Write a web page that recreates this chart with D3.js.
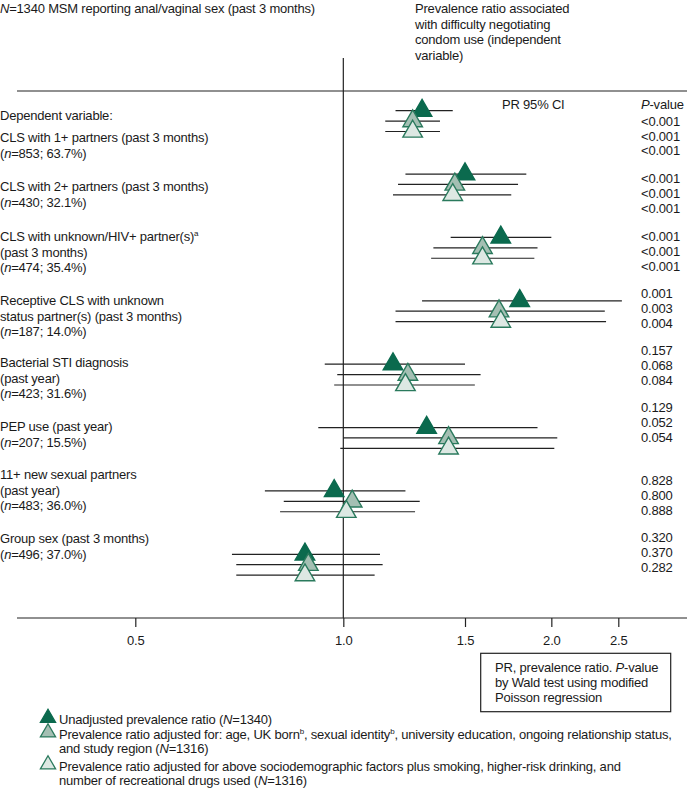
<!DOCTYPE html>
<html>
<head>
<meta charset="utf-8">
<script src="https://cdn.jsdelivr.net/npm/d3@7"></script>
<style>
  body { margin: 0; background: #fff; }
  svg text { font-family: "Liberation Sans", Arial, sans-serif; font-size: 13px; letter-spacing: -0.2px; fill: #1a1a1a; }
</style>
</head>
<body>
<div id="theGraph"></div>
<script>
// ---- data ----
const groupLabels = [
    ["CLS with 1+ partners (past 3 months)"],
    ["CLS with 2+ partners (past 3 months)"],
    ["CLS with unknown/HIV+ partner(s)|a", "(past 3 months)"],
    ["Receptive CLS with unknown", "status partner(s) (past 3 months)"],
    ["Bacterial STI diagnosis", "(past year)"],
    ["PEP use (past year)"],
    ["11+ new sexual partners", "(past year)"],
    ["Group sex (past 3 months)"]
];
const groupN = ["853; 63.7%", "430; 32.1%", "474; 35.4%", "187; 14.0%", "423; 31.6%", "207; 15.5%", "483; 36.0%", "496; 37.0%"];

// [PR, lower, upper]
const unadjusted = [[1.30, 1.19, 1.44], [1.50, 1.23, 1.84], [1.69, 1.43, 2.00], [1.80, 1.30, 2.53],
    [1.18, 0.94, 1.50], [1.32, 0.92, 1.91], [0.97, 0.77, 1.23], [0.88, 0.69, 1.13]];
const adjustedSocio = [[1.26, 1.15, 1.38], [1.45, 1.20, 1.79], [1.59, 1.35, 1.91], [1.68, 1.19, 2.39],
    [1.24, 0.98, 1.58], [1.42, 1.00, 2.04], [1.03, 0.82, 1.29], [0.89, 0.70, 1.14]];
const adjustedFull = [[1.26, 1.15, 1.38], [1.44, 1.18, 1.75], [1.59, 1.34, 1.89], [1.69, 1.19, 2.40],
    [1.23, 0.97, 1.55], [1.42, 0.99, 2.02], [1.01, 0.81, 1.27], [0.88, 0.70, 1.11]];

const pUnadjusted = ["<0.001", "<0.001", "<0.001", "0.001", "0.157", "0.129", "0.828", "0.320"];
const pAdjustedSocio = ["<0.001", "<0.001", "<0.001", "0.003", "0.068", "0.052", "0.800", "0.370"];
const pAdjustedFull = ["<0.001", "<0.001", "<0.001", "0.004", "0.084", "0.054", "0.888", "0.282"];

const tickValues = [0.5, 1.0, 1.5, 2.0, 2.5];

// ---- layout ----
const width = 687, height = 790;
const seriesColors = [
    {fill: "#0b6a4e", stroke: "#0b6a4e"},
    {fill: "#a4bfb3", stroke: "#2a7a5d"},
    {fill: "#dde8e3", stroke: "#2a7a5d"}
];
const labelY = [137, 186, 236, 300, 362, 426, 474, 538];
const lineH = 15.5;

const svg = d3.select("#theGraph").append("svg").attr("width", width).attr("height", height);

const xScale = d3.scaleLog().domain([0.5, 2.5]).range([135.3, 618.3]);
const yGroup = d3.scaleLinear().domain([0, 7]).range([110.7, 554.3]);
const rowStep = 10.4;
const axisY = 618;

// header
svg.append("text").attr("x", 0).attr("y", 13)
    .call(t => { t.append("tspan").style("font-style", "italic").text("N"); t.append("tspan").text("=1340 MSM reporting anal/vaginal sex (past 3 months)"); });
["Prevalence ratio associated", "with difficulty negotiating", "condom use (independent", "variable)"]
    .forEach((s, i) => svg.append("text").attr("x", 415).attr("y", 13 + i * lineH).text(s));

svg.append("line").attr("x1", 17).attr("x2", width).attr("y1", 91).attr("y2", 91).attr("stroke", "#222").attr("stroke-width", 1.2);
svg.append("line").attr("x1", xScale(1)).attr("x2", xScale(1)).attr("y1", 58).attr("y2", axisY).attr("stroke", "#222").attr("stroke-width", 1.2);

svg.append("text").attr("x", 0).attr("y", 120).text("Dependent variable:");
svg.append("text").attr("x", 502).attr("y", 109).text("PR 95% CI");
svg.append("text").attr("x", 641).attr("y", 109)
    .call(t => { t.append("tspan").style("font-style", "italic").text("P"); t.append("tspan").text("-value"); });

// group labels
groupLabels.forEach((lines, g) => {
    lines.forEach((s, i) => {
        const t = svg.append("text").attr("x", 0).attr("y", labelY[g] + 5 + i * lineH);
        const parts = s.split("|");
        t.append("tspan").text(parts[0]);
        if (parts[1]) t.append("tspan").attr("font-size", "8px").attr("dy", -5).text(parts[1]);
    });
    const t = svg.append("text").attr("x", 0).attr("y", labelY[g] + 5 + lines.length * lineH);
    t.append("tspan").text("(");
    t.append("tspan").style("font-style", "italic").text("n");
    t.append("tspan").text("=" + groupN[g] + ")");
});

// axis
svg.append("line").attr("x1", 17).attr("x2", width).attr("y1", axisY).attr("y2", axisY).attr("stroke", "#222").attr("stroke-width", 1.2);
const axis = svg.append("g").attr("transform", `translate(0,${axisY})`)
    .call(d3.axisBottom(xScale).tickValues(tickValues).tickFormat(d3.format(".1f")).tickSize(9).tickSizeOuter(0).tickPadding(9));
axis.select(".domain").remove();
axis.selectAll("line").attr("stroke", "#222").attr("stroke-width", 1.2);
axis.selectAll("text").attr("font-family", null).attr("font-size", null).attr("fill", "#1a1a1a");

// CI rows
const series = [unadjusted, adjustedSocio, adjustedFull];
const pSeries = [pUnadjusted, pAdjustedSocio, pAdjustedFull];
const tri = d3.symbol(d3.symbolTriangle, 165);

series.forEach((data, k) => {
    const g = svg.append("g");
    g.selectAll("line").data(data).enter().append("line")
        .attr("x1", d => xScale(d[1])).attr("x2", d => xScale(d[2]))
        .attr("y1", (d, i) => yGroup(i) + k * rowStep).attr("y2", (d, i) => yGroup(i) + k * rowStep)
        .attr("stroke", "#222").attr("stroke-width", 1.2);
});
// markers on top of all CI lines
series.forEach((data, k) => {
    svg.append("g").selectAll("path").data(data).enter().append("path")
        .attr("d", tri)
        .attr("transform", (d, i) => `translate(${xScale(d[0])},${yGroup(i) + k * rowStep})`)
        .attr("fill", seriesColors[k].fill).attr("stroke", seriesColors[k].stroke).attr("stroke-width", 1.4);
});

// p-values
const pY = [120.7, 178.3, 236, 293, 350, 407, 480, 537];
pSeries.forEach((vals, k) => {
    svg.append("g").selectAll("text").data(vals).enter().append("text")
        .attr("x", 641).attr("y", (d, i) => pY[i] + 5 + k * 14.8).text(d => d);
});

// note box
svg.append("rect").attr("x", 480.7).attr("y", 653.3).attr("width", 190).attr("height", 58.4)
    .attr("fill", "none").attr("stroke", "#222").attr("stroke-width", 1.2);
svg.append("text").attr("x", 495).attr("y", 671.5)
    .call(t => { t.append("tspan").text("PR, prevalence ratio. "); t.append("tspan").style("font-style", "italic").text("P"); t.append("tspan").text("-value"); });
svg.append("text").attr("x", 495).attr("y", 687).text("by Wald test using modified");
svg.append("text").attr("x", 495).attr("y", 702).text("Poisson regression");

// legend
const legTri = d3.symbol(d3.symbolTriangle, 100);
const legendItems = [
    {y: 719, lines: [[["Unadjusted prevalence ratio ("], ["N", "i"], ["=1340)"]]]},
    {y: 733.5, lines: [[["Prevalence ratio adjusted for: age, UK born"], ["b", "s"], [", sexual identity"], ["b", "s"], [", university education, ongoing relationship status,"]],
        [["and study region ("], ["N", "i"], ["=1316)"]]]},
    {y: 765.5, lines: [[["Prevalence ratio adjusted for above sociodemographic factors plus smoking, higher-risk drinking, and"]],
        [["number of recreational drugs used ("], ["N", "i"], ["=1316)"]]]}
];
legendItems.forEach((item, k) => {
    svg.append("path").attr("d", legTri).attr("transform", `translate(48,${item.y - 1})`)
        .attr("fill", seriesColors[k].fill).attr("stroke", seriesColors[k].stroke).attr("stroke-width", 1.3);
    item.lines.forEach((segs, i) => {
        const t = svg.append("text").attr("x", 59).attr("y", item.y + 5 + i * 14);
        segs.forEach(s => {
            const sp = t.append("tspan").text(s[0]);
            if (s[1] === "i") sp.style("font-style", "italic");
            if (s[1] === "s") { sp.attr("font-size", "8px").attr("dy", -5); }
        });
        // reset baseline after superscripts
        t.selectAll("tspan").each(function(d, j, nodes) {
            const prev = nodes[j - 1];
            if (prev && prev.getAttribute("dy") === "-5" && this.getAttribute("dy") !== "-5") d3.select(this).attr("dy", 5);
        });
    });
});
</script>
</body>
</html>
